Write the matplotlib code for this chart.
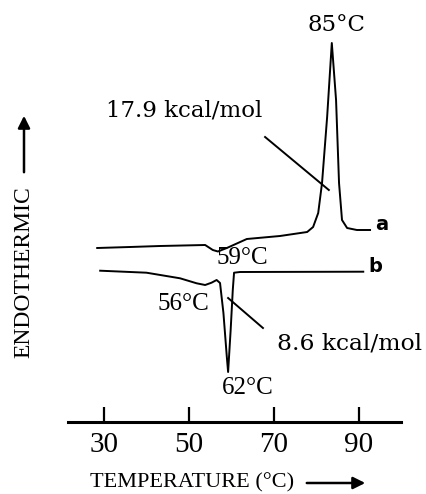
"""DSC thermograms (a) and (b) with peak annotations."""
import matplotlib
matplotlib.use("Agg")
import matplotlib.pyplot as plt

W, H, DPI = 427, 494, 100

# curve a: temperature (deg C) vs. heat flow (arb. units)
temp_a = [28.4, 36.1, 43.2, 53.8, 55.6, 56.8, 58.9, 63.6, 71.4, 77.8, 79.2,
          80.4, 81.3, 82.5, 83.6, 84.6, 85.3, 86.0, 87.2, 89.5, 92.6]
flow_a = [174, 175, 176, 177, 172, 170.5, 174, 183, 186, 190, 195,
          209, 239, 305, 379, 322, 239, 202, 194, 192, 192]

# curve b
temp_b = [29.1, 40.0, 47.9, 51.8, 53.8, 55.3, 56.5, 57.3, 58.1, 58.9, 59.2,
          59.8, 60.3, 60.6, 62.0, 91.0]
flow_b = [151.3, 149.3, 143.7, 138.7, 137, 139.3, 142, 139, 109, 65, 50,
          92, 132, 149.3, 150, 150.3]

xticks = [30, 50, 70, 90]

# leader lines for the enthalpy labels
lead_179_x = [67.9, 82.9]
lead_179_y = [285, 232]
lead_86_x = [59.2, 67.4]
lead_86_y = [124, 94]

SERIF = ["Liberation Serif", "DejaVu Serif"]
WIDE = ["DejaVu Serif"]

fig = plt.figure(figsize=(W / DPI, H / DPI), dpi=DPI)
ax = fig.add_axes([68 / W, 1 - 422 / H, (401 - 68) / W, 422 / H])
ax.set_xlim(21.53, 99.88)
ax.set_ylim(0, 422)
ax.patch.set_alpha(0)

ax.plot(temp_a, flow_a, color="black", lw=1.4, solid_joinstyle="round")
ax.plot(temp_b, flow_b, color="black", lw=1.4, solid_joinstyle="round")
ax.plot(lead_179_x, lead_179_y, color="black", lw=1.4)
ax.plot(lead_86_x, lead_86_y, color="black", lw=1.4)

for s in ["left", "top", "right"]:
    ax.spines[s].set_visible(False)
ax.spines["bottom"].set_linewidth(2.2)
ax.set_yticks([])
ax.set_xticks(xticks)
ax.set_xticklabels([str(t) for t in xticks], family=SERIF, fontsize=21)
ax.tick_params(axis="x", direction="in", length=11, width=1.6, pad=7)

ax.text(84.8, 397, "85°C", ha="center", va="center", family=WIDE,
        fontsize=16.5)
ax.text(30.5, 312, "17.9 kcal/mol", ha="left", va="center", family=WIDE,
        fontsize=16.5)
ax.text(70.7, 79, "8.6 kcal/mol", ha="left", va="center", family=WIDE,
        fontsize=16.8)
ax.text(62.5, 164, "59°C", ha="center", va="center", family=SERIF,
        fontsize=18)
ax.text(48.6, 118, "56°C", ha="center", va="center", family=SERIF,
        fontsize=18)
ax.text(63.9, 34, "62°C", ha="center", va="center", family=SERIF,
        fontsize=18)
ax.text(95.4, 198, "a", ha="center", va="center", fontsize=14,
        fontweight="bold", family="DejaVu Sans")
ax.text(93.8, 155, "b", ha="center", va="center", fontsize=14,
        fontweight="bold", family="DejaVu Sans")

# axis titles with arrows, in figure pixels
fig.text(90 / W, 1 - 483 / H, "TEMPERATURE (°C)", ha="left", va="center",
         family=SERIF, fontsize=16)
fig.add_artist(matplotlib.patches.FancyArrowPatch(
    (304 / W, 1 - 483 / H), (368 / W, 1 - 483 / H),
    transform=fig.transFigure, arrowstyle="-|>", mutation_scale=18,
    color="black", lw=1.8))
fig.text(24 / W, 1 - 272 / H, "ENDOTHERMIC", ha="center", va="center",
         rotation=90, family=SERIF, fontsize=17)
fig.add_artist(matplotlib.patches.FancyArrowPatch(
    (24 / W, 1 - 175 / H), (24 / W, 1 - 113 / H),
    transform=fig.transFigure, arrowstyle="-|>", mutation_scale=18,
    color="black", lw=1.8))

fig.savefig("out.png", dpi=DPI)
